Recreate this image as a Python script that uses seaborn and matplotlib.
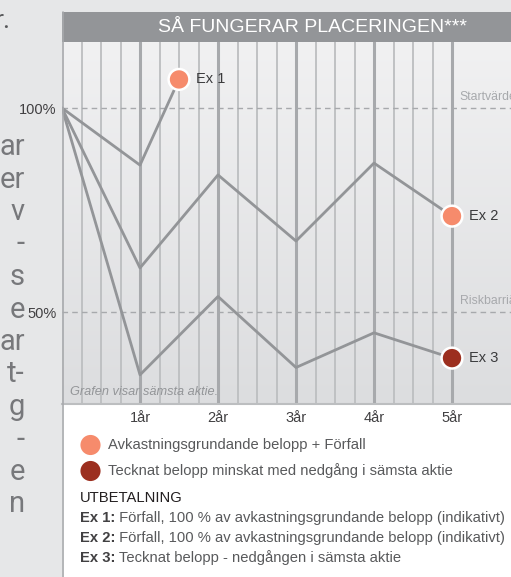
import numpy as np
import pandas as pd
import matplotlib.pyplot as plt
import seaborn as sns
from matplotlib.colors import LinearSegmentedColormap
from matplotlib.patches import Rectangle

# Data läst ur bilden (procent av startvärde, år)
ex1_years = [0, 1, 1.5]
ex1_values = [100, 86, 107]
years = [0, 1, 2, 3, 4, 5]
ex2_values = [100, 60.8, 83.6, 67.4, 86.5, 73.5]
ex3_values = [100, 34.6, 53.8, 36.4, 44.9, 38.7]

ex_names = ['Ex 1', 'Ex 2', 'Ex 3']
ex_colors = ['#f68b6c', '#f68b6c', '#9c2f1f']

tick_years = [1, 2, 3, 4, 5]
tick_labels = ['1år', '2år', '3år', '4år', '5år']
y_ticks = [100, 50]
y_labels = ['100%', '50%']
levels = [100, 50]
level_names = ['Startvärde', 'Riskbarriär']

title = 'SÅ FUNGERAR PLACERINGEN***'
note = 'Grafen visar sämsta aktie.'
legend_texts = ['Avkastningsgrundande belopp + Förfall',
                'Tecknat belopp minskat med nedgång i sämsta aktie']
legend_colors = ['#f68b6c', '#9c2f1f']
payout_title = 'UTBETALNING'
payout_heads = ['Ex 1:', 'Ex 2:', 'Ex 3:']
payout_texts = [' Förfall, 100 % av avkastningsgrundande belopp (indikativt)',
                ' Förfall, 100 % av avkastningsgrundande belopp (indikativt)',
                ' Tecknat belopp - nedgången i sämsta aktie']
side_words = ['ar', 'er', 'v', '-', 's', 'e', 'ar', 't-', 'g', '-', 'e', 'n']

# long form tabell för seaborn
df = pd.concat([
    pd.DataFrame({'år': ex1_years, 'värde': ex1_values, 'serie': 'Ex 1'}),
    pd.DataFrame({'år': years, 'värde': ex2_values, 'serie': 'Ex 2'}),
    pd.DataFrame({'år': years, 'värde': ex3_values, 'serie': 'Ex 3'}),
], ignore_index=True)
ends = df.groupby('serie').tail(1)

sns.set_theme(style='white')
plt.rcParams['font.family'] = ['Liberation Sans', 'DejaVu Sans']

W, H = 511, 577
fig = plt.figure(figsize=(W / 100, H / 100), dpi=100)
fig.patch.set_facecolor('#e6e7e8')


def fx(x):
    return x / W


def fy(y):
    return 1 - y / H


# vit panel + rubrikfält
fig.add_artist(Rectangle((fx(62), 0), 1, fy(42), transform=fig.transFigure,
                         facecolor='white', edgecolor='none', zorder=0))
fig.add_artist(Rectangle((fx(62), fy(42)), 1, fy(12) - fy(42), transform=fig.transFigure,
                         facecolor='#939598', edgecolor='none', zorder=1))
fig.add_artist(plt.Line2D([fx(62.5), fx(62.5)], [0, fy(12)], transform=fig.transFigure,
                          color='#a7a9ac', lw=1.2, zorder=2))
fig.text(fx(312), fy(27), title, color='white', fontsize=14, ha='center', va='center')

# avklippt text till vänster
side_font = ['Roboto', 'DejaVu Sans']
fig.text(fx(10), fy(21), 'r.', color='#58595b', fontsize=19, ha='right', va='center',
         family=side_font)
for i, w in enumerate(side_words):
    fig.text(fx(25), fy(147 + i * 32.5), w, color='#77787b', fontsize=21,
             ha='right', va='center', family=side_font)

ax = fig.add_axes([fx(62), fy(404), 1 - fx(62), fy(42) - fy(404)])
x0, x1 = 0, (W - 62) / 78
y0, y1 = 100 - (404 - 108) / 4.08, 100 + (108 - 42) / 4.08
ax.set_xlim(x0, x1)
ax.set_ylim(y0, y1)

grad = LinearSegmentedColormap.from_list('bg', ['#f1f1f2', '#dcdddf'])
ax.imshow(np.linspace(0, 1, 256).reshape(-1, 1), cmap=grad, aspect='auto',
          extent=[x0, x1, y0, y1], zorder=0)

# vertikala rutlinjer per kvartal, tjockare per år
for q in np.arange(0.25, 5.01, 0.25):
    year_line = abs(q - round(q)) < 1e-9
    ax.axvline(q, color='#a7a9ac' if year_line else '#bcbec0',
               lw=2.2 if year_line else 1.3, zorder=1)

for lv, name in zip(levels, level_names):
    ax.axhline(lv, color='#a7a9ac', lw=1, dashes=(4, 3), zorder=2)
    ax.text(5.1, lv + 1.3, name, color='#a7a9ac', fontsize=8.8, ha='left', va='bottom',
            clip_on=False)

sns.lineplot(data=df, x='år', y='värde', units='serie', estimator=None,
             color='#939598', lw=2, ax=ax, zorder=3, legend=False)
sns.scatterplot(data=ends, x='år', y='värde', hue='serie',
                palette=dict(zip(ex_names, ex_colors)), s=225, edgecolor='white',
                linewidth=1.8, ax=ax, zorder=4, legend=False, clip_on=False)
for _, r in ends.iterrows():
    ax.annotate(r['serie'], (r['år'], r['värde']), xytext=(12, 0), textcoords='offset points',
                fontsize=10.5, color='#3a3a3c', va='center', ha='left')

ax.text(0.1, y0 + 3, note, color='#939598', fontsize=9.2, style='italic',
        ha='left', va='center')

ax.set_xticks(tick_years)
ax.set_xticklabels(tick_labels)
ax.set_yticks(y_ticks)
ax.set_yticklabels(y_labels)
ax.tick_params(axis='x', length=0, pad=5, labelsize=10.5, labelcolor='#414042')
ax.tick_params(axis='y', length=0, pad=4, labelsize=10.5, labelcolor='#414042')
ax.set_xlabel('')
ax.set_ylabel('')
for side in ['top', 'right', 'left']:
    ax.spines[side].set_visible(False)
ax.spines['bottom'].set_color('#bcbec0')
ax.spines['bottom'].set_linewidth(1.5)

# förklaring under diagrammet
leg_ax = fig.add_axes([0, 0, 1, 1], facecolor='none')
leg_ax.set_xlim(0, W)
leg_ax.set_ylim(H, 0)
leg_ax.axis('off')
leg_y = [445, 471]
sns.scatterplot(x=[90.5] * 2, y=leg_y, hue=legend_texts, palette=dict(zip(legend_texts, legend_colors)),
                s=210, linewidth=0, ax=leg_ax, legend=False)
for yy, t in zip(leg_y, legend_texts):
    leg_ax.text(108, yy, t, fontsize=10.6, color='#58595b', va='center', ha='left')

leg_ax.text(80, 498, payout_title, fontsize=10.6, color='#231f20', va='center', ha='left')
for i, (hd, t) in enumerate(zip(payout_heads, payout_texts)):
    h = leg_ax.text(80, 518 + i * 20, hd, fontsize=10.6, color='#414042', fontweight='bold',
                    va='center', ha='left')
    leg_ax.annotate(t, xy=(1, 0), xycoords=h, fontsize=10.6, color='#58595b',
                    va='bottom', ha='left')

fig.savefig('out.png', dpi=100)
